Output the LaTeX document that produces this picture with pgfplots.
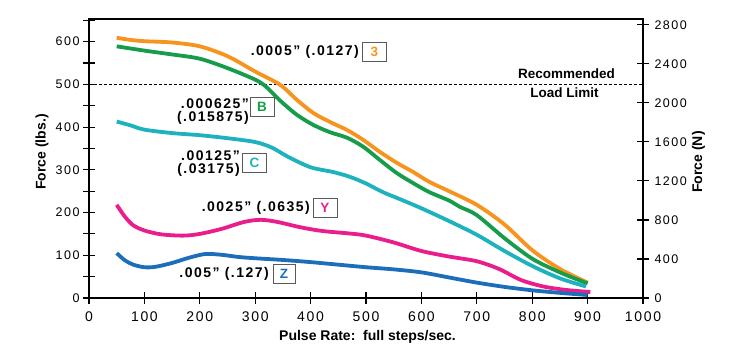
\documentclass[border=0pt]{standalone}
\usepackage{pgfplots}
\pgfplotsset{compat=1.18}
\usepackage{fontspec}
\setmainfont{Liberation Sans}
\newfontfamily\tickfont[LetterSpace=12]{Liberation Sans}
\newfontfamily\labfont[LetterSpace=10.5]{Liberation Sans}
\definecolor{cOrange}{RGB}{247,148,30}
\definecolor{cGreen}{RGB}{22,156,74}
\definecolor{cTeal}{RGB}{30,178,190}
\definecolor{cMag}{RGB}{233,30,140}
\definecolor{cBlue}{RGB}{28,110,186}
\definecolor{boxgray}{RGB}{90,90,90}
\begin{document}
\begin{tikzpicture}
\useasboundingbox (-89pt,-52pt) rectangle (640pt,298pt);
\begin{axis}[
  anchor=south west, scale only axis,
  width=554pt, height=279pt,
  xmin=0, xmax=1000, ymin=0, ymax=653,
  xtick={0,100,...,1000}, ytick={0,100,...,600},
  minor ytick={50,150,...,650},
  xtick pos=bottom, ytick pos=left,
  tick align=center, major tick length=12pt, minor tick length=12pt,
  axis line style={line width=1.6pt},
  every tick/.style={line width=1.1pt, black},
  /pgf/number format/assume math mode=true,
  /pgf/number format/1000 sep={},
  xticklabel style={font=\tickfont\fontsize{14}{15}\selectfont, yshift=-4pt},
  yticklabel style={font=\tickfont\fontsize{12.5}{14}\selectfont},
]
\addplot[black, line width=0.8pt, dash pattern=on 3pt off 2pt] coordinates {(0,500) (1000,500)};
\addplot[cOrange, line width=3.8pt, smooth] coordinates {
(50,609) (75,604) (100,601) (150,598) (200,589) (250,566) (300,530) (345,499) (375,464) (405,433) (435,412) (466,393) (495,370) (525,342) (556,316) (585,295) (614,272) (650,250) (700,218) (750,172) (800,112) (850,68) (900,36)};
\addplot[cGreen, line width=3.8pt, smooth] coordinates {
(50,589) (100,579) (150,570) (200,560) (250,538) (300,511) (320,494) (345,462) (375,429) (405,405) (435,388) (466,375) (495,354) (525,323) (556,292) (585,269) (614,248) (650,228) (670,213) (700,194) (750,140) (800,92) (850,60) (900,34)};
\addplot[cTeal, line width=3.8pt, smooth] coordinates {
(50,413) (75,404) (100,394) (150,386) (200,381) (250,374) (300,365) (330,352) (360,330) (400,306) (440,295) (470,284) (500,268) (530,248) (560,232) (600,210) (650,180) (700,148) (750,110) (800,75) (850,46) (897,27)};
\addplot[cMag, line width=3.8pt, smooth] coordinates {
(50,218) (65,190) (80,170) (100,158) (130,149) (170,146) (200,150) (240,162) (280,178) (310,183) (340,178) (380,166) (420,157) (470,151) (500,146) (550,130) (600,110) (650,97) (700,86) (740,68) (780,42) (820,27) (860,19) (905,14)};
\addplot[cBlue, line width=3.8pt, smooth] coordinates {
(50,105) (65,88) (80,78) (100,72) (120,73) (150,82) (180,94) (210,103) (240,101) (270,96) (300,93) (350,89) (400,84) (450,78) (500,72) (550,67) (600,60) (650,48) (700,36) (750,26) (800,18) (850,12) (900,7)};
\end{axis}
\begin{axis}[
  anchor=south west, scale only axis,
  width=554pt, height=279pt,
  xmin=0, xmax=1000, ymin=0, ymax=2860,
  axis x line=none, axis y line*=right,
  ytick={0,400,...,2800},
  tick align=center, major tick length=12pt,
  axis line style={line width=1.6pt},
  every tick/.style={line width=1.1pt, black},
  /pgf/number format/assume math mode=true,
  /pgf/number format/1000 sep={},
  yticklabel style={font=\tickfont\fontsize{12.5}{14}\selectfont, xshift=2pt},
]
\end{axis}
\begin{scope}[x=1pt,y=1pt,shift={(-89pt,-52pt)}]
% axis titles
\node[rotate=90, font=\bfseries\fontsize{14}{16}\selectfont] at (42,198) {Force (lbs.)};
\node[rotate=90, font=\bfseries\fontsize{14}{16}\selectfont] at (698.5,188) {Force (N)};
\node[font=\bfseries\fontsize{14}{16}\selectfont] at (367.5,13) {Pulse Rate:\ \ full steps/sec.};
% recommended
\node[font=\bfseries\fontsize{13.5}{16}\selectfont] at (566.5,276) {Recommended};
\node[font=\bfseries\fontsize{13.5}{16}\selectfont] at (564.5,257) {Load Limit};
% curve labels
\tikzset{lab/.style={font=\labfont\bfseries\fontsize{14}{13.5}\selectfont, anchor=east, inner sep=0pt, align=right},
 bx/.style={draw=boxgray, line width=0.8pt, minimum width=24pt, minimum height=19pt, inner sep=0pt, font=\bfseries\fontsize{13.5}{14}\selectfont}}
\node[lab] at (359,298) {.0005” (.0127)};
\node[bx, text=cOrange] at (374.5,298.5) {3};
\node[lab] at (249,238.5) {.000625”\\(.015875)};
\node[bx, text=cGreen] at (262,243.5) {B};
\node[lab] at (240,186.5) {.00125”\\(.03175)};
\node[bx, text=cTeal] at (254.5,187) {C};
\node[lab] at (310,142) {.0025” (.0635)};
\node[bx, text=cMag] at (325,142.5) {Y};
\node[lab] at (269,76) {.005” (.127)};
\node[bx, text=cBlue, minimum width=22pt] at (284,76.5) {Z};
\end{scope}
\end{tikzpicture}
\end{document}
